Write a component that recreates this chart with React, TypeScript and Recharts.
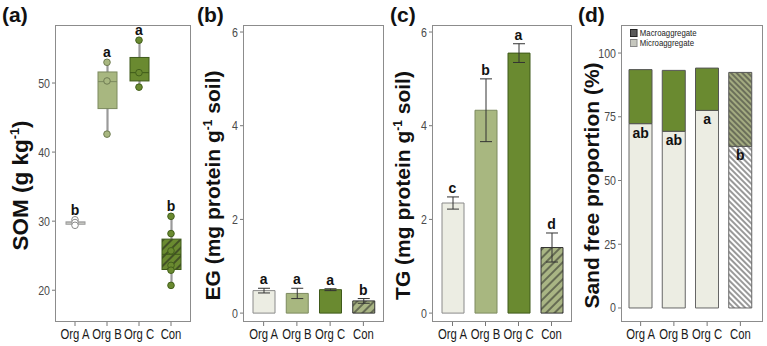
import React from "react";
import {
  ComposedChart,
  Bar,
  Line,
  XAxis,
  YAxis,
  ErrorBar,
  Cell,
  LabelList,
} from "recharts";

const groups = ["Org A", "Org B", "Org C", "Con"];

// (a) SOM box plots, g/kg
const somLow = [29.4, 42.6, 49.4, 20.7];
const somQ1 = [29.55, 46.3, 50.3, 23.0];
const somMed = [29.75, 50.2, 51.5, 25.2];
const somQ3 = [29.9, 51.6, 53.7, 27.4];
const somHigh = [30.2, 53.0, 56.2, 30.7];
const somPoints = [
  [30.2, 29.8, 29.4],
  [53.0, 50.3, 42.6],
  [56.2, 51.5, 49.4],
  [30.7, 28.2, 25.7, 23.6, 22.9, 20.7],
];
const somLetters = ["b", "a", "a", "b"];
const somTicks = [20, 30, 40, 50];

// (b) EG and (c) TG, mg protein / g soil
const egMean = [0.48, 0.42, 0.5, 0.26];
const egErr = [0.05, 0.11, 0.02, 0.05];
const egLetters = ["a", "a", "a", "b"];
const tgMean = [2.35, 4.33, 5.55, 1.4];
const tgErr = [0.13, 0.67, 0.2, 0.31];
const tgLetters = ["c", "b", "a", "d"];
const enzTicks = [0, 2, 4, 6];

// (d) sand free proportion, %
const microShare = [72.3, 69.3, 77.5, 63.4];
const totalShare = [93.5, 93.2, 94.1, 92.4];
const sandLetters = ["ab", "ab", "a", "b"];
const sandTicks = [0, 25, 50, 75, 100];
const sandSeries = ["Macroaggregate", "Microaggregate"];

const SANS = "'Liberation Sans', Arial, Helvetica, sans-serif";

const LIGHT = "#ecede3";
const MID = "#a8b780";
const DARK = "#6a8a30";

const pointFill = ["#ffffff", MID, DARK, DARK];
const pointStroke = ["#8a8a8a", "#6f7c52", "#43601c", "#43601c"];
const boxFill = [LIGHT, MID, DARK, "url(#hatchSom)"];
const boxStroke = ["#9a9a9a", "#7c8a5e", "#3f5a1a", "#3f5a1a"];

const H = 346;
const PT = 25;
const PB = 322;

const somData = groups.map((name, i) => {
  const row: any = {
    name,
    range: [somLow[i], somHigh[i]],
    low: somLow[i],
    q1: somQ1[i],
    med: somMed[i],
    q3: somQ3[i],
    high: somHigh[i],
    letter: somLetters[i],
  };
  somPoints[i].forEach((v, k) => (row[`p${k}`] = v));
  return row;
});

const egData = groups.map((name, i) => ({
  name,
  mean: egMean[i],
  err: egErr[i],
  top: egMean[i] + egErr[i],
  letter: egLetters[i],
}));

const tgData = groups.map((name, i) => ({
  name,
  mean: tgMean[i],
  err: tgErr[i],
  top: tgMean[i] + tgErr[i],
  letter: tgLetters[i],
}));

const sandData = groups.map((name, i) => ({
  name,
  micro: microShare[i],
  macro: totalShare[i] - microShare[i],
  letter: sandLetters[i],
}));

function Hatch({ id, bg, ink, size, angle, width = 1 }: any) {
  return (
    <pattern
      id={id}
      patternUnits="userSpaceOnUse"
      width={size}
      height={size}
      patternTransform={`rotate(${angle})`}
    >
      <rect width={size} height={size} fill={bg} />
      <line x1={size / 2} y1={0} x2={size / 2} y2={size} stroke={ink} strokeWidth={width} />
    </pattern>
  );
}

function AxisTitle({ x, pre, sup, post, size = 21 }: any) {
  const y = (PT + PB) / 2 + 12;
  return (
    <text
      transform={`translate(${x},${y}) rotate(-90)`}
      textAnchor="middle"
      fontFamily={SANS}
      fontWeight="bold"
      fontSize={size}
      fill="#111"
    >
      {pre}
      {sup ? (
        <>
          <tspan fontSize={size * 0.57} dy={-size * 0.38}>
            {sup}
          </tspan>
          <tspan dy={size * 0.38}>{post}</tspan>
        </>
      ) : null}
    </text>
  );
}

// condensed tick text (the source figure uses a narrow face)
function XTick(props: any) {
  const { x, y, payload } = props;
  return (
    <g transform={`translate(${x},${y})`}>
      <text
        transform="scale(0.73,1)"
        textAnchor="middle"
        dy="0.75em"
        fontSize={15.5}
        fill="#1a1a1a"
        fontFamily={SANS}
      >
        {payload.value}
      </text>
    </g>
  );
}

function YTick(props: any) {
  const { x, y, payload } = props;
  return (
    <g transform={`translate(${x},${y})`}>
      <text
        transform="scale(0.85,1)"
        textAnchor="end"
        dy="0.36em"
        fontSize={12.5}
        fill="#4a4a4a"
        fontFamily={SANS}
      >
        {payload.value}
      </text>
    </g>
  );
}

function BoxShape(props: any) {
  const { x, y, width, height, payload } = props;
  const i = groups.indexOf(payload.name);
  const top = Math.min(y, y + height);
  const bot = Math.max(y, y + height);
  const py = (v: number) =>
    top + ((payload.high - v) / (payload.high - payload.low)) * (bot - top);
  const cx = x + width / 2;
  return (
    <g>
      <line x1={cx} x2={cx} y1={top} y2={bot} stroke="#9a9a9a" strokeWidth={2.2} />
      <rect
        x={x}
        y={py(payload.q3)}
        width={width}
        height={Math.max(py(payload.q1) - py(payload.q3), 1.5)}
        fill={boxFill[i]}
        stroke={boxStroke[i]}
        strokeWidth={1}
      />
      <line
        x1={x}
        x2={x + width}
        y1={py(payload.med)}
        y2={py(payload.med)}
        stroke={boxStroke[i]}
        strokeWidth={1}
      />
    </g>
  );
}

function makeDot(k: number) {
  return (props: any) => {
    const { cx, cy, payload, index } = props;
    const v = payload ? payload[`p${k}`] : null;
    if (v == null || cy == null || isNaN(cy)) return <g key={`d${k}-${index}`} />;
    const i = groups.indexOf(payload.name);
    return (
      <circle
        key={`d${k}-${index}`}
        cx={cx}
        cy={cy}
        r={3.3}
        fill={pointFill[i]}
        stroke={pointStroke[i]}
        strokeWidth={1}
      />
    );
  };
}

const letterStyle = { fontSize: 14, fontWeight: "bold", fill: "#111", fontFamily: SANS };

function Frame({ left, right }: { left: number; right: number }) {
  return (
    <div
      style={{
        position: "absolute",
        left,
        top: PT,
        width: right - left,
        height: PB - PT,
        border: "1px solid #8c8c8c",
        boxSizing: "border-box",
        pointerEvents: "none",
      }}
    />
  );
}

function PanelTag({ left, text }: { left: number; text: string }) {
  return (
    <div
      style={{
        position: "absolute",
        left,
        top: 3,
        fontFamily: SANS,
        fontWeight: "bold",
        fontSize: 21,
        lineHeight: "24px",
        color: "#111",
      }}
    >
      {text}
    </div>
  );
}

function xAxisFor(pad: { left: number; right: number }) {
  return (
    <XAxis
      dataKey="name"
      height={H - PB}
      axisLine={false}
      tickSize={4}
      tickMargin={1}
      tickLine={{ stroke: "#777" }}
      tick={<XTick />}
      padding={pad}
      interval={0}
    />
  );
}

function SomPanel() {
  const W = 196;
  const plotL = 55;
  const plotR = 191;
  return (
    <div style={{ position: "absolute", left: 0, top: 0 }}>
      <ComposedChart
        width={W}
        height={H}
        data={somData}
        margin={{ top: PT, right: W - plotR, bottom: 0, left: 0 }}
      >
        <defs>
          <Hatch id="hatchSom" bg={DARK} ink="#1a1a1a" size={6} angle={45} />
        </defs>
        {xAxisFor({ left: 4, right: 4 })}
        <YAxis
          type="number"
          width={plotL}
          domain={[15.4, 58.4]}
          ticks={somTicks}
          allowDataOverflow
          axisLine={false}
          tickSize={3}
          tickMargin={2}
          tickLine={{ stroke: "#777" }}
          tick={<YTick />}
          label={<AxisTitle x={33} size={22.5} pre="SOM (g kg" sup="-1" post=")" />}
        />
        <Bar dataKey="range" barSize={19} shape={(p: any) => <BoxShape {...p} />} isAnimationActive={false} />
        {[0, 1, 2, 3, 4, 5].map((k) => (
          <Line
            key={k}
            dataKey={`p${k}`}
            stroke="none"
            dot={makeDot(k)}
            activeDot={false}
            isAnimationActive={false}
          />
        ))}
        <Line dataKey="high" stroke="none" dot={false} activeDot={false} isAnimationActive={false}>
          <LabelList dataKey="letter" position="top" offset={5} style={letterStyle} />
        </Line>
      </ComposedChart>
      <Frame left={plotL} right={plotR} />
    </div>
  );
}

function EnzymePanel({ left, W, plotL, plotR, data, title, titleX, id }: any) {
  const fills = [LIGHT, MID, DARK, `url(#${id})`];
  const strokes = ["#8a8a8a", "#7c8a5e", "#3f5a1a", "#333333"];
  return (
    <div style={{ position: "absolute", left, top: 0 }}>
      <ComposedChart
        width={W}
        height={H}
        data={data}
        margin={{ top: PT, right: W - plotR, bottom: 0, left: 0 }}
      >
        <defs>
          <Hatch id={id} bg="#a9b584" ink="#222" size={6} angle={45} />
        </defs>
        {xAxisFor({ left: 4, right: 4 })}
        <YAxis
          type="number"
          width={plotL}
          domain={[-0.19, 6.15]}
          ticks={enzTicks}
          allowDataOverflow
          axisLine={false}
          tickSize={3}
          tickMargin={2}
          tickLine={{ stroke: "#777" }}
          tick={<YTick />}
          label={<AxisTitle x={titleX} pre={title} sup="-1" post=" soil)" />}
        />
        <Bar dataKey="mean" barSize={22} isAnimationActive={false}>
          {data.map((d: any, i: number) => (
            <Cell key={d.name} fill={fills[i]} stroke={strokes[i]} strokeWidth={1} />
          ))}
          <ErrorBar dataKey="err" width={6} stroke="#333" strokeWidth={1} direction="y" />
        </Bar>
        <Line dataKey="top" stroke="none" dot={false} activeDot={false} isAnimationActive={false}>
          <LabelList dataKey="letter" position="top" offset={4} style={letterStyle} />
        </Line>
      </ComposedChart>
      <Frame left={plotL} right={plotR} />
    </div>
  );
}

function SandLegend({ left, top }: { left: number; top: number }) {
  const sw = ["#5a5a5a", "#c6c7be"];
  const bd = ["#222", "#888"];
  return (
    <div
      style={{
        position: "absolute",
        left,
        top,
        fontFamily: SANS,
        fontSize: 9.5,
        color: "#222",
        lineHeight: "10px",
        transform: "scaleX(0.82)",
        transformOrigin: "left top",
        whiteSpace: "nowrap",
      }}
    >
      {sandSeries.map((s, i) => (
        <div key={s} style={{ display: "flex", alignItems: "center", height: 10 }}>
          <span
            style={{
              display: "inline-block",
              width: 9,
              height: 8,
              background: sw[i],
              border: `1px solid ${bd[i]}`,
              marginRight: 3,
              boxSizing: "border-box",
            }}
          />
          {s}
        </div>
      ))}
    </div>
  );
}

function SandPanel() {
  const left = 576;
  const W = 191;
  const plotL = 45;
  const plotR = 187;
  const microFill = [LIGHT, LIGHT, LIGHT, "url(#hatchSandLo)"];
  const macroFill = [DARK, DARK, DARK, "url(#hatchSandHi)"];
  return (
    <div style={{ position: "absolute", left, top: 0 }}>
      <ComposedChart
        width={W}
        height={H}
        data={sandData}
        margin={{ top: PT, right: W - plotR, bottom: 0, left: 0 }}
      >
        <defs>
          <Hatch id="hatchSandLo" bg="#ffffff" ink="#333" size={4} angle={-45} />
          <Hatch id="hatchSandHi" bg="#a3ab80" ink="#333" size={4} angle={-45} />
        </defs>
        {xAxisFor({ left: 3, right: 6 })}
        <YAxis
          type="number"
          width={plotL}
          domain={[-5.5, 111]}
          ticks={sandTicks}
          allowDataOverflow
          axisLine={false}
          tickSize={3}
          tickMargin={2}
          tickLine={{ stroke: "#777" }}
          tick={<YTick />}
          label={<AxisTitle x={28} pre="Sand free proportion (%)" />}
        />
        <Bar dataKey="micro" name={sandSeries[1]} stackId="s" barSize={23} isAnimationActive={false}>
          {sandData.map((d, i) => (
            <Cell key={d.name} fill={microFill[i]} stroke="#666" strokeWidth={1} />
          ))}
        </Bar>
        <Bar dataKey="macro" name={sandSeries[0]} stackId="s" barSize={23} isAnimationActive={false}>
          {sandData.map((d, i) => (
            <Cell key={d.name} fill={macroFill[i]} stroke="#555" strokeWidth={1} />
          ))}
        </Bar>
        <Line dataKey="micro" stroke="none" dot={false} activeDot={false} isAnimationActive={false}>
          <LabelList dataKey="letter" position="bottom" offset={4} style={letterStyle} />
        </Line>
      </ComposedChart>
      <Frame left={plotL} right={plotR} />
      <SandLegend left={54} top={28} />
    </div>
  );
}

export default function App() {
  return (
    <div
      style={{
        position: "absolute",
        left: 0,
        top: 0,
        width: 767,
        height: H,
        background: "#fff",
        overflow: "hidden",
      }}
    >
      <SomPanel />
      <EnzymePanel
        left={196}
        W={192}
        plotL={47}
        plotR={188}
        data={egData}
        title="EG (mg protein g"
        titleX={35}
        id="hatchEG"
      />
      <EnzymePanel
        left={388}
        W={188}
        plotL={44}
        plotR={184}
        data={tgData}
        title="TG (mg protein g"
        titleX={33}
        id="hatchTG"
      />
      <SandPanel />
      <PanelTag left={2} text="(a)" />
      <PanelTag left={197} text="(b)" />
      <PanelTag left={390} text="(c)" />
      <PanelTag left={578} text="(d)" />
    </div>
  );
}
